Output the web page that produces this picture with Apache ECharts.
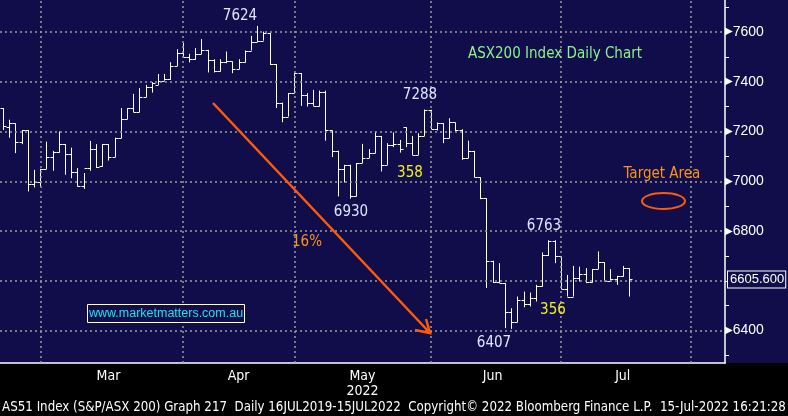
<!DOCTYPE html>
<html>
<head>
<meta charset="utf-8">
<script src="https://cdn.jsdelivr.net/npm/echarts@6/dist/echarts.min.js"></script>
<style>
html, body { margin: 0; padding: 0; background: #000; }
#main { width: 788px; height: 416px; }
</style>
</head>
<body>
<div id="main"></div>
<script>
// ASX trading days, 18 Feb 2022 .. 5 Aug 2022 (future days keep the empty space on the right)
var holidays = ['2022-04-15', '2022-04-18', '2022-04-25', '2022-06-13'];
var dates = [];
for (var t = Date.UTC(2022, 1, 18); t <= Date.UTC(2022, 7, 5); t += 86400000) {
    var d = new Date(t);
    var s = d.toISOString().slice(0, 10);
    if (d.getUTCDay() === 0 || d.getUTCDay() === 6 || holidays.indexOf(s) >= 0) continue;
    dates.push(s);
}

// daily OHLC
var opens = [7294, 7217, 7233, 7159, 7206, 6988, 6996, 7050, 7097, 7117,
    7149, 7109, 7037, 6982, 7053, 7130, 7062, 7149, 7097, 7173,
    7249, 7294, 7277, 7338, 7380, 7387, 7404, 7410, 7463, 7514,
    7498, 7490, 7512, 7528, 7488, 7441, 7477, 7481, 7451, 7477,
    7525, 7561, 7565, 7595, 7471, 7316, 7260, 7354, 7434, 7347,
    7314, 7303, 7360, 7204, 7123, 7050, 7066, 6941, 7073, 7093,
    7113, 7182, 7066, 7146, 7150, 7217, 7155, 7106, 7182, 7286,
    7209, 7233, 7173, 7236, 7204, 7093, 7122, 7016, 6932, 6681,
    6597, 6591, 6474, 6434, 6524, 6508, 6531, 6580, 6704, 6760,
    6700, 6567, 6537, 6611, 6628, 6597, 6647, 6675, 6601, 6607,
    6620, 6651];
var highs = [7294, 7247, 7233, 7206, 7206, 7046, 7050, 7159, 7122, 7200,
    7149, 7135, 7053, 7033, 7162, 7149, 7149, 7149, 7175, 7294,
    7294, 7351, 7374, 7387, 7398, 7431, 7431, 7478, 7530, 7555,
    7512, 7535, 7571, 7528, 7490, 7490, 7521, 7481, 7490, 7525,
    7584, 7624, 7601, 7595, 7471, 7316, 7354, 7434, 7434, 7354,
    7367, 7364, 7364, 7204, 7123, 7066, 7066, 7073, 7150, 7129,
    7200, 7182, 7153, 7196, 7166, 7217, 7182, 7193, 7288, 7287,
    7236, 7233, 7253, 7236, 7209, 7163, 7122, 7016, 6932, 6681,
    6671, 6591, 6490, 6537, 6557, 6553, 6584, 6714, 6763, 6763,
    6700, 6624, 6660, 6657, 6651, 6647, 6718, 6675, 6647, 6620,
    6660, 6651];
var lows = [7206, 7175, 7113, 7149, 6959, 6975, 6979, 7049, 7042, 7115,
    7026, 7012, 6979, 6969, 7042, 7053, 7059, 7083, 7097, 7173,
    7249, 7277, 7277, 7338, 7356, 7387, 7404, 7407, 7463, 7498,
    7477, 7488, 7510, 7437, 7437, 7441, 7474, 7434, 7450, 7477,
    7525, 7561, 7565, 7467, 7294, 7237, 7260, 7354, 7303, 7300,
    7303, 7300, 7163, 7097, 6939, 6995, 6930, 6939, 7073, 7093,
    7113, 7039, 7066, 7137, 7115, 7137, 7106, 7106, 7182, 7209,
    7204, 7153, 7173, 7200, 7086, 7093, 7016, 6928, 6571, 6591,
    6593, 6410, 6407, 6434, 6494, 6497, 6517, 6577, 6700, 6671,
    6567, 6537, 6537, 6597, 6591, 6593, 6647, 6601, 6601, 6584,
    6617, 6537];
var closes = [7220, 7233, 7159, 7206, 6988, 6996, 7050, 7097, 7117, 7149,
    7109, 7037, 6982, 7053, 7130, 7059, 7149, 7097, 7173, 7249,
    7294, 7277, 7338, 7380, 7396, 7404, 7410, 7463, 7514, 7498,
    7490, 7512, 7528, 7488, 7441, 7477, 7481, 7451, 7477, 7525,
    7561, 7565, 7595, 7471, 7316, 7260, 7354, 7434, 7347, 7314,
    7303, 7360, 7204, 7123, 7050, 7066, 6941, 7073, 7093, 7113,
    7182, 7066, 7146, 7150, 7129, 7155, 7106, 7182, 7287, 7209,
    7233, 7173, 7236, 7204, 7093, 7122, 7016, 6932, 6681, 6597,
    6593, 6474, 6434, 6524, 6508, 6531, 6580, 6704, 6760, 6700,
    6567, 6537, 6611, 6628, 6597, 6647, 6675, 6601, 6607, 6620,
    6651, 6605.6];

var lastPrice = 6605.6;
var yLabels = [6400, 6800, 7000, 7200, 7400, 7600];   // 6600 sits under the last price box
var yTicks = [6300, 6400, 6500, 6600, 6700, 6800, 6900, 7000, 7100, 7200, 7300, 7400, 7500, 7600, 7700];
var yGrid = [6400, 6600, 6800, 7000, 7200, 7400, 7600];
var monthEnds = ['2022-02-28', '2022-03-31', '2022-04-29', '2022-05-31', '2022-06-30', '2022-07-29'];
var monthLabelDates = ['2022-03-15', '2022-04-13', '2022-05-16', '2022-06-15', '2022-07-14'];
var monthLabelTexts = ['Mar', 'Apr', 'May\n2022', 'Jun', 'Jul'];

var NAVY = '#100d4a';
var NARROW = '"Liberation Sans Narrow", "DejaVu Sans Condensed", sans-serif';

var ohlc = opens.map(function (o, i) { return [i, o, highs[i], lows[i], closes[i]]; });

function renderBar(params, api) {
    var i = api.value(0);
    var x = Math.round(api.coord([i, api.value(2)])[0]) + 0.5;
    var yH = api.coord([i, api.value(2)])[1];
    var yL = api.coord([i, api.value(3)])[1];
    var yO = Math.round(api.coord([i, api.value(1)])[1]) + 0.5;
    var yC = Math.round(api.coord([i, api.value(4)])[1]) + 0.5;
    var w = 3;
    var st = { stroke: '#fff', lineWidth: 1 };
    return {
        type: 'group',
        children: [
            { type: 'line', shape: { x1: x, y1: yH, x2: x, y2: yL }, style: st },
            { type: 'line', shape: { x1: x - w, y1: yO, x2: x, y2: yO }, style: st },
            { type: 'line', shape: { x1: x, y1: yC, x2: x + w, y2: yC }, style: st }
        ]
    };
}

function txt(text, x, y, color, font) {
    return {
        type: 'text', z: 20,
        style: { text: text, x: x, y: y, fill: color, font: font, textAlign: 'center', textVerticalAlign: 'middle' }
    };
}

var chart = echarts.init(document.getElementById('main'));
chart.setOption({
    backgroundColor: '#000',
    animation: false,
    grid: { left: 0, top: 0, right: 63, bottom: 53, show: true, backgroundColor: NAVY, borderWidth: 0 },
    xAxis: {
        type: 'category',
        data: dates,
        boundaryGap: true,
        axisLine: { lineStyle: { color: '#fff', width: 1.5 } },
        axisTick: {
            alignWithLabel: true, length: 4, lineStyle: { color: '#fff' },
            interval: function (idx, val) { return monthEnds.indexOf(val) >= 0; }
        },
        axisLabel: {
            color: '#fff', fontFamily: NARROW, fontSize: 14, margin: 6, lineHeight: 15,
            interval: function (idx, val) { return monthLabelDates.indexOf(val) >= 0; },
            formatter: function (val) { return monthLabelTexts[monthLabelDates.indexOf(val)]; }
        },
        splitLine: { show: false }
    },
    yAxis: {
        type: 'value',
        position: 'right',
        min: 6270,
        max: 7728,
        axisLine: { show: true, lineStyle: { color: '#fff', width: 1.5 } },
        axisTick: { show: true, customValues: yTicks, length: 4, lineStyle: { color: '#fff' } },
        axisLabel: {
            customValues: yLabels, margin: 0,
            formatter: function (v) { return '{t|\u25B6}{v|' + v + '}'; },
            rich: {
                t: { color: '#fff', fontSize: 10, fontFamily: 'DejaVu Sans' },
                v: { color: '#fff', fontSize: 14, fontFamily: '"Liberation Sans", sans-serif' }
            }
        },
        splitLine: { show: false }
    },
    series: [
        {
            type: 'line',
            data: [],
            z: 1,
            markLine: {
                silent: true,
                symbol: ['none', 'none'],
                label: { show: false },
                lineStyle: { color: '#9c9c9c', type: [2, 3], width: 1.5 },
                data: yGrid.map(function (v) { return { yAxis: v }; })
                    .concat(monthEnds.map(function (d) { return { xAxis: d }; }))
            }
        },
        {
            type: 'custom',
            z: 3,
            renderItem: renderBar,
            encode: { x: 0, y: [1, 2, 3, 4] },
            data: ohlc,
            markLine: {
                silent: true,
                symbol: ['none', 'none'],
                lineStyle: { color: 'rgba(0,0,0,0)', width: 0 },
                data: [{
                    yAxis: lastPrice,
                    label: {
                        show: true, position: 'end', distance: 3,
                        formatter: lastPrice.toFixed(3),
                        color: '#fff', fontSize: 13, fontFamily: '"Liberation Sans", sans-serif',
                        backgroundColor: NAVY, borderColor: '#fff', borderWidth: 1,
                        padding: [2, 1, 1, 2]
                    }
                }]
            }
        }
    ],
    graphic: [
        { type: 'rect', z: -1, silent: true, shape: { x: 725, y: 0, width: 63, height: 363 }, style: { fill: NAVY } },
        txt('7624', 240, 16, '#dfe7ff', '15px ' + NARROW),
        txt('7288', 420, 95, '#dfe7ff', '15px ' + NARROW),
        txt('6930', 351, 212, '#dfe7ff', '15px ' + NARROW),
        txt('6407', 494, 343, '#dfe7ff', '15px ' + NARROW),
        txt('6763', 544, 226, '#dfe7ff', '15px ' + NARROW),
        txt('358', 410, 173, '#f2f21e', '15px ' + NARROW),
        txt('356', 553, 310, '#f2f21e', '15px ' + NARROW),
        txt('16%', 307, 242, '#f7941d', '15px ' + NARROW),
        txt('ASX200 Index Daily Chart', 555, 54, '#8ef08e', '15px ' + NARROW),
        txt('Target Area', 662, 174, '#f7941d', '15px ' + NARROW),
        {
            type: 'ellipse', z: 20,
            shape: { cx: 663.5, cy: 201, rx: 21.5, ry: 8 },
            style: { fill: 'none', stroke: '#ff5a0a', lineWidth: 2 }
        },
        {
            type: 'line', z: 20,
            shape: { x1: 213, y1: 103, x2: 430, y2: 333 },
            style: { stroke: '#ff5a0a', lineWidth: 2.5 }
        },
        {
            type: 'polyline', z: 20,
            shape: { points: [[426, 319], [430, 333], [415, 330]] },
            style: { stroke: '#ff5a0a', lineWidth: 2.5, fill: 'none' }
        },
        {
            type: 'rect', z: 20,
            shape: { x: 87.5, y: 304.5, width: 157, height: 18 },
            style: { fill: NAVY, stroke: '#fff', lineWidth: 1 }
        },
        txt('www.marketmatters.com.au', 166, 314, '#19e3f0', '12.5px "Liberation Sans", sans-serif'),
        txt('AS51 Index (S&P/ASX 200) Graph 217  Daily 16JUL2019-15JUL2022  Copyright\u00A9 2022 Bloomberg Finance L.P.  15-Jul-2022 16:21:28',
            394, 408, '#fff', '13.2px ' + NARROW)
    ]
});
</script>
</body>
</html>
